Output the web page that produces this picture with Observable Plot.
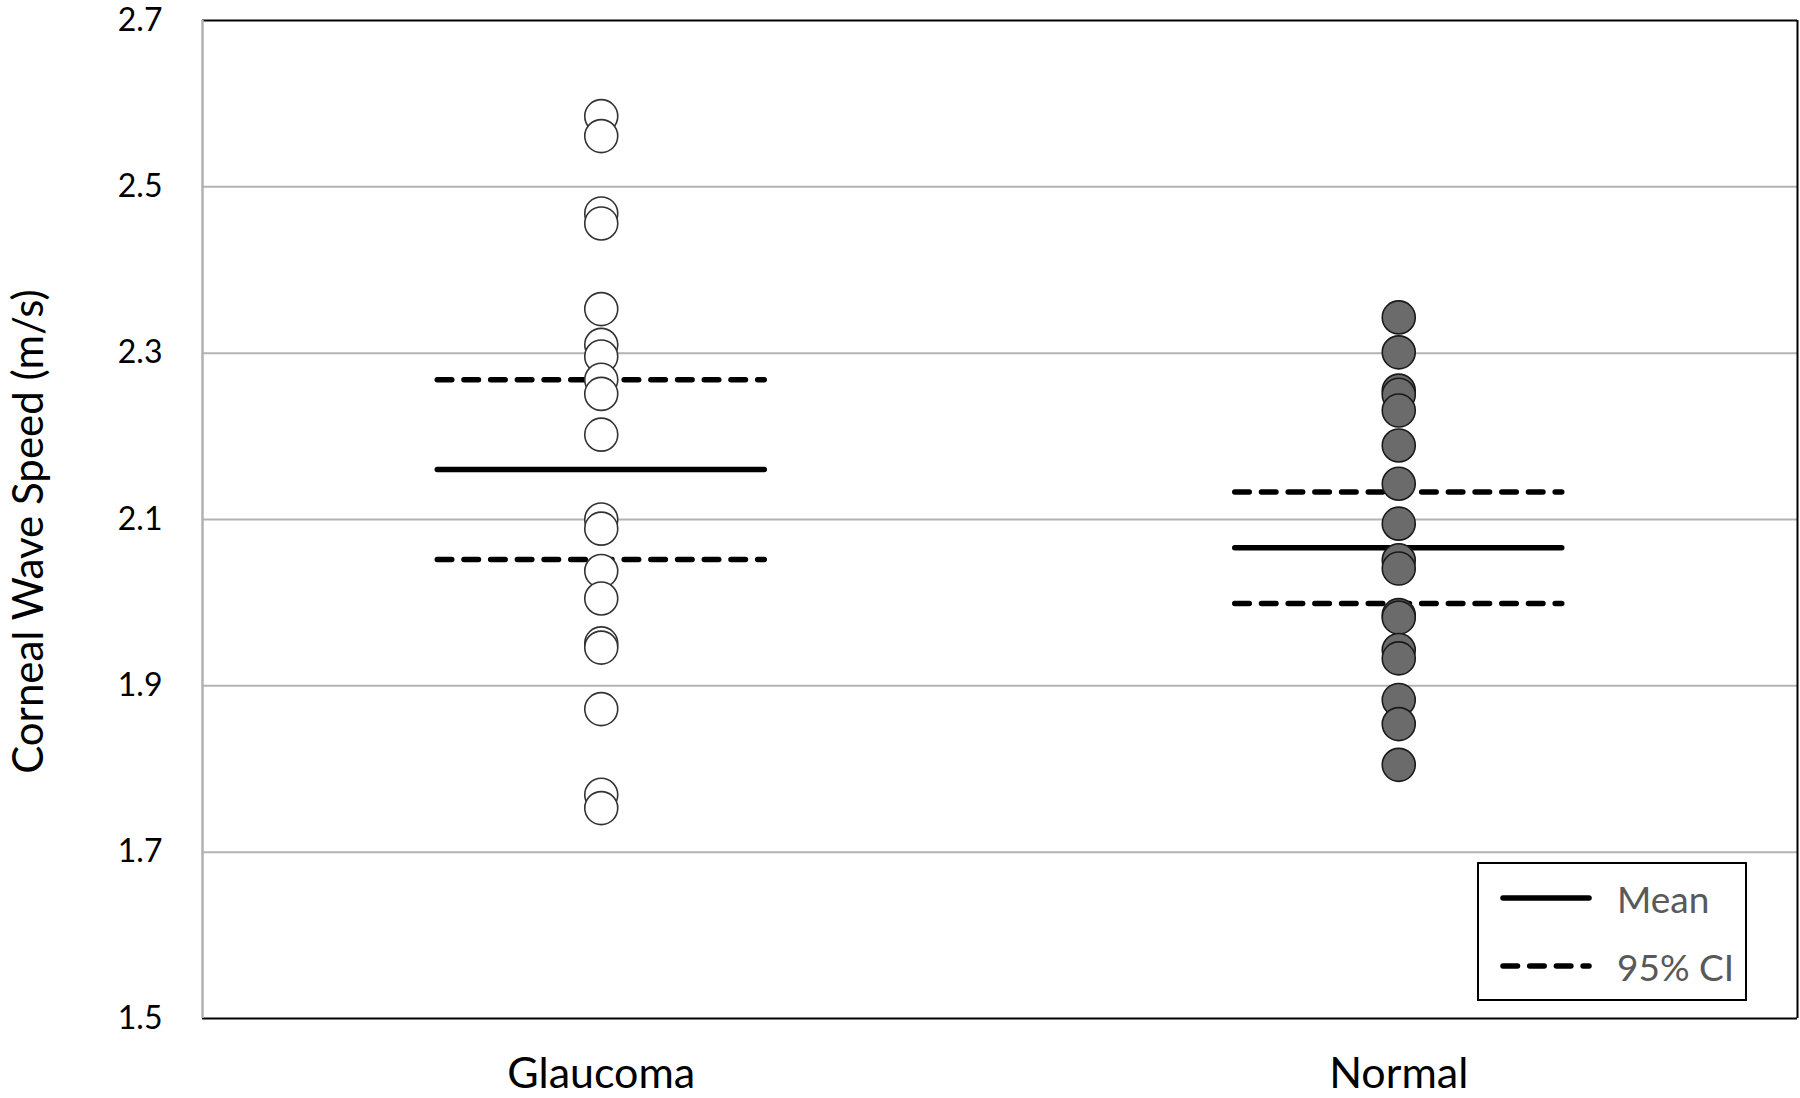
<!DOCTYPE html>
<html>
<head>
<meta charset="utf-8">
<script src="https://cdn.jsdelivr.net/npm/d3@7"></script>
<script src="https://cdn.jsdelivr.net/npm/@observablehq/plot@0.6"></script>
<style>
  html, body { margin: 0; padding: 0; background: #fff; }
  #wrap { position: relative; width: 1800px; height: 1098px; }
  #legend { position: absolute; left: 0; top: 0; pointer-events: none; }
</style>
</head>
<body>
<div id="wrap"></div>
<script>
// ---- data ----
const categories = ["Glaucoma", "Normal"];
const glaucoma = [2.585, 2.561, 2.468, 2.456, 2.353, 2.310, 2.296, 2.268, 2.251, 2.202,
                  2.100, 2.089, 2.038, 2.005, 1.951, 1.946, 1.872, 1.769, 1.753];
const normal = [2.343, 2.301, 2.255, 2.250, 2.231, 2.189, 2.143, 2.095, 2.051, 2.041,
                1.985, 1.982, 1.943, 1.933, 1.883, 1.854, 1.805];
const means = [2.160, 2.066];
const ciLower = [2.052, 1.999];
const ciUpper = [2.268, 2.133];
const yTicks = [1.5, 1.7, 1.9, 2.1, 2.3, 2.5, 2.7];
const legendLabels = ["Mean", "95% CI"];
const yLabel = "Corneal Wave Speed (m/s)";

// ---- build tables ----
const points = [
  ...glaucoma.map(v => ({group: 0, value: v})),
  ...normal.map(v => ({group: 1, value: v}))
];
const meanRows = means.map((v, i) => ({group: i, value: v}));
const ciRows = [...ciLower.map((v, i) => ({group: i, value: v})), ...ciUpper.map((v, i) => ({group: i, value: v}))];

const FONT = "Lato, 'Open Sans', sans-serif";
const hw = 0.205; // half-width of summary lines in band units

const chart = Plot.plot({
  width: 1800,
  height: 1098,
  marginLeft: 202,
  marginRight: 3,
  marginTop: 20,
  marginBottom: 80,
  style: {fontFamily: FONT, background: "#fff", color: "#000", overflow: "visible"},
  x: {domain: [0, 2], axis: null},
  y: {domain: [1.5, 2.7], axis: null},
  marks: [
    Plot.ruleY(yTicks.slice(1, -1), {stroke: "#b3b3b3", strokeWidth: 2}),
    Plot.ruleY([yTicks[yTicks.length - 1], yTicks[0]], {stroke: "#000", strokeWidth: 2}),
    Plot.ruleX([2], {stroke: "#000", strokeWidth: 2}),
    Plot.ruleX([0], {stroke: "#b0b0b0", strokeWidth: 2.5}),
    Plot.axisY({ticks: yTicks, tickSize: 0, tickPadding: 40, fontSize: 32, tickFormat: d3.format(".1f"), label: null, fill: "#000"}),
    Plot.axisX({ticks: [0.5, 1.5], tickSize: 0, tickPadding: 39, fontSize: 43, tickFormat: d => categories[Math.floor(d)], label: null, fill: "#000"}),
    Plot.text([yLabel], {frameAnchor: "left", textAnchor: "middle", lineAnchor: "middle", rotate: -90, dx: -173, dy: 12, fontSize: 42, fill: "#000"}),
    Plot.ruleY(ciRows, {y: "value", x1: d => d.group + 0.5 - hw, x2: d => d.group + 0.5 + hw,
      stroke: "#000", strokeWidth: 5.5, strokeDasharray: "14.5 12.2", strokeLinecap: "round"}),
    Plot.ruleY(meanRows, {y: "value", x1: d => d.group + 0.5 - hw, x2: d => d.group + 0.5 + hw,
      stroke: "#000", strokeWidth: 5.5, strokeLinecap: "round"}),
    Plot.dot(points, {x: d => d.group + 0.5, y: "value", r: 16.5,
      fill: d => d.group === 0 ? "#ffffff" : "#6b6b6b",
      stroke: d => d.group === 0 ? "#333333" : "#1a1a1a", strokeWidth: 1.6})
  ]
});
document.getElementById("wrap").appendChild(chart);

// ---- legend (inside plot, lower right) ----
const ns = "http://www.w3.org/2000/svg";
const leg = document.createElementNS(ns, "svg");
leg.setAttribute("id", "legend");
leg.setAttribute("width", 1800);
leg.setAttribute("height", 1098);
const box = document.createElementNS(ns, "rect");
Object.entries({x: 1478, y: 863, width: 268, height: 137, fill: "#fff", stroke: "#000", "stroke-width": 2}).forEach(([k, v]) => box.setAttribute(k, v));
leg.appendChild(box);
legendLabels.forEach((lab, i) => {
  const y = 898 + i * 68;
  const ln = document.createElementNS(ns, "line");
  Object.entries({x1: 1503, x2: 1589, y1: y, y2: y, stroke: "#000", "stroke-width": 5.5, "stroke-linecap": "round"}).forEach(([k, v]) => ln.setAttribute(k, v));
  if (i === 1) ln.setAttribute("stroke-dasharray", "14.5 12.2");
  leg.appendChild(ln);
  const t = document.createElementNS(ns, "text");
  Object.entries({x: 1617, y: y, "dominant-baseline": "central", fill: "#595959", "font-size": 37, "font-family": FONT}).forEach(([k, v]) => t.setAttribute(k, v));
  t.textContent = lab;
  leg.appendChild(t);
});
document.getElementById("wrap").appendChild(leg);
</script>
</body>
</html>
